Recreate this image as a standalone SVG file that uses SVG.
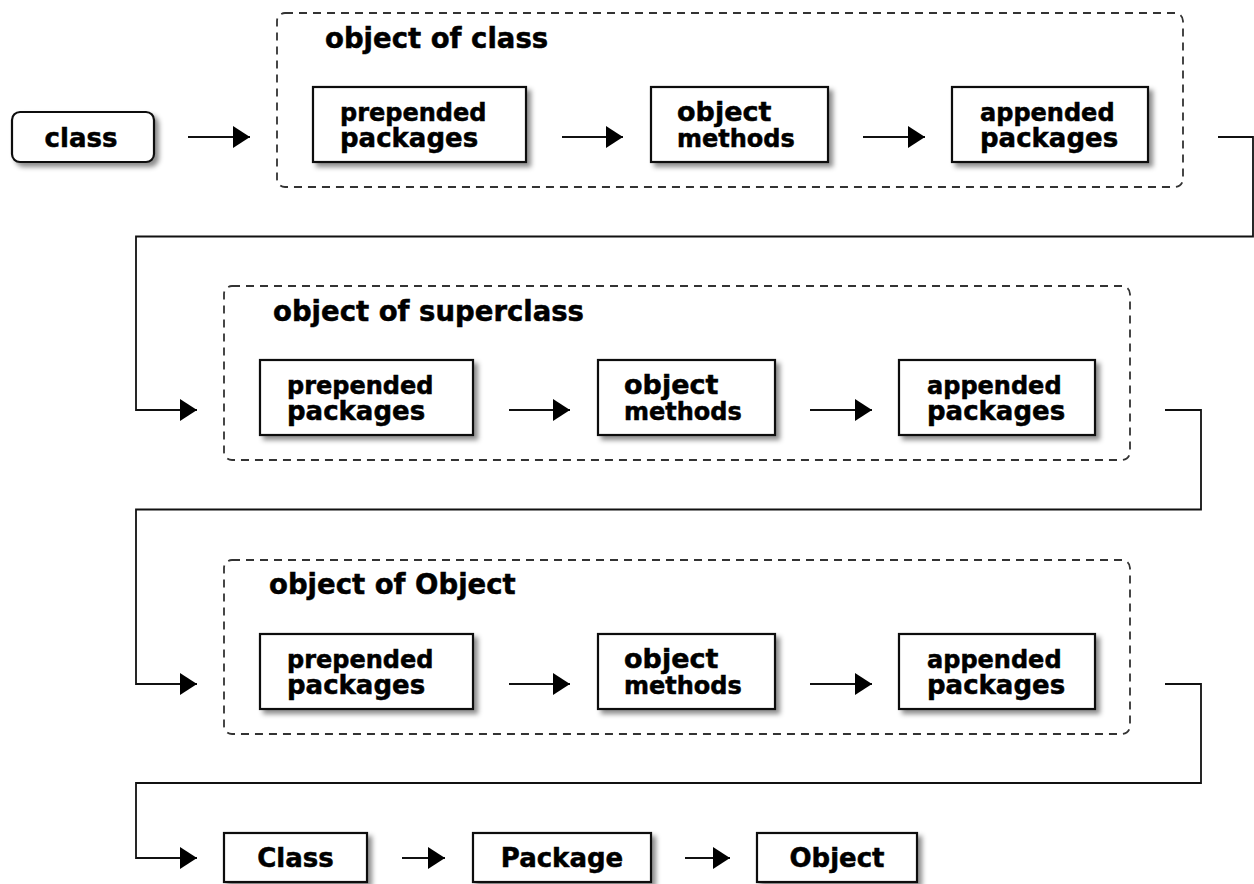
<svg xmlns="http://www.w3.org/2000/svg" width="1254" height="884" viewBox="0 0 1254 884">
<style>
text{font-family:"DejaVu Sans","Liberation Sans",sans-serif;font-weight:bold;fill:#000;stroke:#000;stroke-width:0.5}
.box{fill:#fff;stroke:#111;stroke-width:2.2;filter:url(#sh)}
.grp{fill:none;stroke:#333;stroke-width:1.8;stroke-dasharray:8 6}
.t{font-size:27.5px}
.l1{font-size:24px}
.l2{font-size:26px}
.big{font-size:27px}
.lbl{font-size:26px;text-anchor:middle}
.conn path{fill:none;stroke:#111;stroke-width:1.8;marker-end:url(#ah)}
</style>
<defs>
<filter id="sh" x="-10%" y="-10%" width="130%" height="140%">
<feDropShadow dx="4" dy="4" stdDeviation="2.5" flood-color="#000" flood-opacity="0.45"/>
</filter>
<marker id="ah" markerUnits="userSpaceOnUse" markerWidth="18" markerHeight="22" refX="17" refY="11" orient="auto">
<path d="M0,0 L17,11 L0,22 z" fill="#000"/>
</marker>
</defs>
<rect width="1254" height="884" fill="#fff"/>

<g id="class">
<rect class="box" x="12" y="112" width="142" height="50" rx="8"/>
<text class="lbl" x="81" y="147">class</text>
</g>

<g id="group-class">
<rect class="grp" x="277" y="13" width="906" height="174" rx="8"/>
<text class="t" x="325" y="48">object of class</text>
</g>
<g id="g1-prepended">
<rect class="box" x="313" y="87" width="213" height="75"/>
<text class="l1" x="340" y="121">prepended</text>
<text class="l2" x="340" y="147">packages</text>
</g>
<g id="g1-methods">
<rect class="box" x="651" y="87" width="177" height="75"/>
<text class="big" x="677" y="121">object</text>
<text class="l1" x="677" y="147">methods</text>
</g>
<g id="g1-appended">
<rect class="box" x="952" y="87" width="196" height="75"/>
<text class="l1" x="980" y="121">appended</text>
<text class="l2" x="980" y="147">packages</text>
</g>

<g id="group-superclass">
<rect class="grp" x="224" y="286" width="906" height="174" rx="8"/>
<text class="t" x="273" y="321">object of superclass</text>
</g>
<g id="g2-prepended">
<rect class="box" x="260" y="360" width="213" height="75"/>
<text class="l1" x="287" y="394">prepended</text>
<text class="l2" x="287" y="420">packages</text>
</g>
<g id="g2-methods">
<rect class="box" x="598" y="360" width="177" height="75"/>
<text class="big" x="624" y="394">object</text>
<text class="l1" x="624" y="420">methods</text>
</g>
<g id="g2-appended">
<rect class="box" x="899" y="360" width="196" height="75"/>
<text class="l1" x="927" y="394">appended</text>
<text class="l2" x="927" y="420">packages</text>
</g>

<g id="group-Object">
<rect class="grp" x="224" y="560" width="906" height="174" rx="8"/>
<text class="t" x="269" y="594">object of Object</text>
</g>
<g id="g3-prepended">
<rect class="box" x="260" y="634" width="213" height="75"/>
<text class="l1" x="287" y="668">prepended</text>
<text class="l2" x="287" y="694">packages</text>
</g>
<g id="g3-methods">
<rect class="box" x="598" y="634" width="177" height="75"/>
<text class="big" x="624" y="668">object</text>
<text class="l1" x="624" y="694">methods</text>
</g>
<g id="g3-appended">
<rect class="box" x="899" y="634" width="196" height="75"/>
<text class="l1" x="927" y="668">appended</text>
<text class="l2" x="927" y="694">packages</text>
</g>

<g id="Class">
<rect class="box" x="224" y="833" width="143" height="49"/>
<text class="lbl" x="295.5" y="867">Class</text>
</g>
<g id="Package">
<rect class="box" x="473" y="833" width="178" height="49"/>
<text class="lbl" x="562" y="867">Package</text>
</g>
<g id="Object">
<rect class="box" x="757" y="833" width="160" height="49"/>
<text class="lbl" x="837" y="867">Object</text>
</g>

<g id="connectors" class="conn">
<path d="M188,137 H250"/>
<path d="M562,137 H623"/>
<path d="M863,137 H925"/>
<path d="M1218,137 H1253 V236.5 H136 V410 H197"/>
<path d="M509,410 H570"/>
<path d="M810,410 H872"/>
<path d="M1165,410 H1201 V509.5 H136 V684 H197"/>
<path d="M509,684 H570"/>
<path d="M810,684 H872"/>
<path d="M1165,684 H1201 V783 H136 V858 H197"/>
<path d="M402,858 H445"/>
<path d="M685,858 H730"/>
</g>
</svg>
